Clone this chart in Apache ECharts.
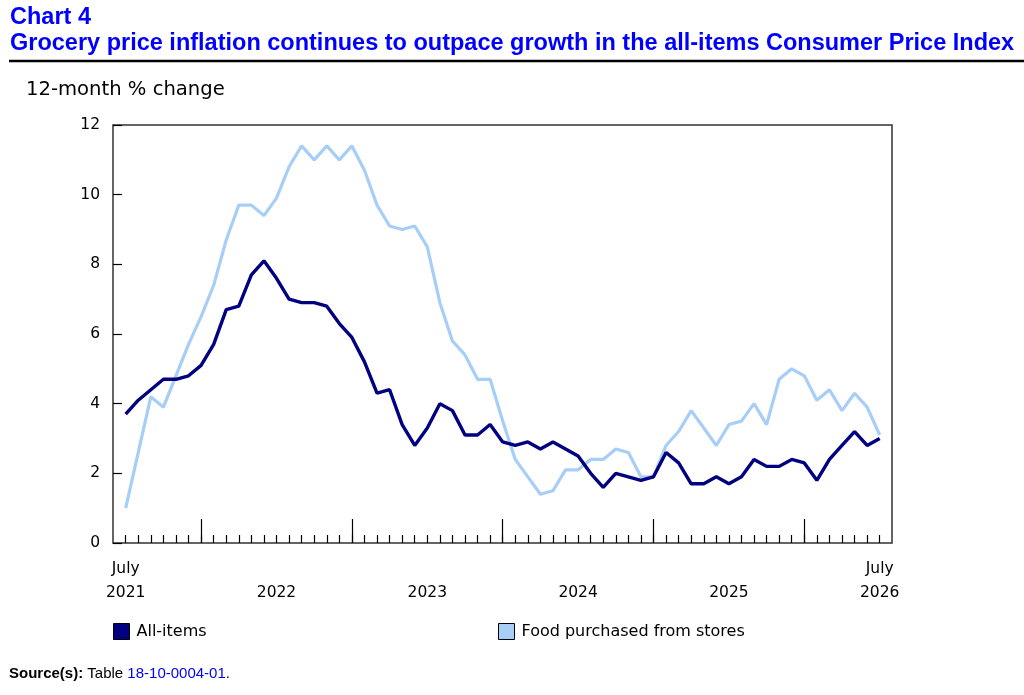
<!DOCTYPE html>
<html>
<head>
<meta charset="utf-8">
<script src="https://cdn.jsdelivr.net/npm/echarts@6/dist/echarts.min.js"></script>
<style>
  html, body { margin: 0; padding: 0; background: #fff; }
  #main { width: 1024px; height: 695px; }
</style>
</head>
<body>
<div id="main"></div>
<script>
// 数据 (July 2021 - July 2026, monthly)
var startYear = 2021;
var startMonth = 7;
var yearLabels = ['2021', '2022', '2023', '2024', '2025', '2026'];
var yTicks = [0, 2, 4, 6, 8, 10, 12];

var allItems = [
    3.7, 4.1, 4.4, 4.7, 4.7, 4.8, 5.1, 5.7, 6.7, 6.8, 7.7, 8.1,
    7.6, 7.0, 6.9, 6.9, 6.8, 6.3, 5.9, 5.2, 4.3, 4.4, 3.4, 2.8,
    3.3, 4.0, 3.8, 3.1, 3.1, 3.4, 2.9, 2.8, 2.9, 2.7, 2.9, 2.7,
    2.5, 2.0, 1.6, 2.0, 1.9, 1.8, 1.9, 2.6, 2.3, 1.7, 1.7, 1.9,
    1.7, 1.9, 2.4, 2.2, 2.2, 2.4, 2.3, 1.8, 2.4, 2.8, 3.2, 2.8,
    3.0
];

var foodStores = [
    1.0, 2.6, 4.2, 3.9, 4.8, 5.7, 6.5, 7.4, 8.7, 9.7, 9.7, 9.4,
    9.9, 10.8, 11.4, 11.0, 11.4, 11.0, 11.4, 10.7, 9.7, 9.1, 9.0, 9.1,
    8.5, 6.9, 5.8, 5.4, 4.7, 4.7, 3.5, 2.4, 1.9, 1.4, 1.5, 2.1,
    2.1, 2.4, 2.4, 2.7, 2.6, 1.9, 1.9, 2.8, 3.2, 3.8, 3.3, 2.8,
    3.4, 3.5, 4.0, 3.4, 4.7, 5.0, 4.8, 4.1, 4.4, 3.8, 4.3, 3.9,
    3.1
];

var seriesNames = ['All-items', 'Food purchased from stores'];
var colors = ['#000080', '#a7cef7'];

var months = [];
for (var i = 0; i < allItems.length; i++) {
    var m = startMonth - 1 + i;
    months.push((startYear + Math.floor(m / 12)) + '-' + ((m % 12) + 1));
}

var chartFont = 'DejaVu Sans';
var titleFont = 'Liberation Sans';

function lineChart(divId) {
    var dom = document.getElementById(divId);
    var myChart = echarts.init(dom, null, { renderer: 'canvas' });

    var last = months.length - 1;
    var option = {
        animation: false,
        backgroundColor: '#fff',
        title: [
            {
                text: 'Chart 4\nGrocery price inflation continues to outpace growth in the all-items Consumer Price Index',
                left: 5,
                top: 0,
                textStyle: {
                    fontFamily: titleFont,
                    fontSize: 23.5,
                    fontWeight: 'bold',
                    color: '#0000ff',
                    lineHeight: 26
                }
            },
            {
                text: '12-month % change',
                left: 21,
                top: 75,
                textStyle: { fontFamily: chartFont, fontSize: 19.6, fontWeight: 'normal', color: '#000' }
            },
            {
                text: '{b|Source(s):} Table {l|18-10-0004-01}.',
                left: 4,
                top: 661,
                textStyle: {
                    fontFamily: titleFont,
                    fontSize: 15,
                    fontWeight: 'normal',
                    color: '#000',
                    rich: {
                        b: { fontFamily: titleFont, fontSize: 15, fontWeight: 'bold', color: '#000' },
                        l: { fontFamily: titleFont, fontSize: 15, fontWeight: 'normal', color: '#0000ff' }
                    }
                }
            }
        ],
        graphic: [
            {
                type: 'line',
                shape: { x1: 9, y1: 61, x2: 1024, y2: 61 },
                style: { stroke: '#000', lineWidth: 2.5 }
            }
        ],
        legend: [
            {
                data: [seriesNames[0]],
                left: 108,
                top: 618,
                icon: 'rect',
                itemWidth: 16,
                itemHeight: 16,
                itemStyle: { borderColor: '#000', borderWidth: 1 },
                textStyle: { fontFamily: chartFont, fontSize: 16, color: '#000', padding: [0, 0, 0, 2] }
            },
            {
                data: [seriesNames[1]],
                left: 493,
                top: 618,
                icon: 'rect',
                itemWidth: 16,
                itemHeight: 16,
                itemStyle: { borderColor: '#000', borderWidth: 1 },
                textStyle: { fontFamily: chartFont, fontSize: 16, color: '#000', padding: [0, 0, 0, 2] }
            }
        ],
        grid: [
            // 外框
            {
                left: 113, top: 125, width: 779, height: 418,
                show: true, borderColor: '#333', borderWidth: 1.5, backgroundColor: 'transparent'
            },
            // 数据区
            { left: 125.7, top: 125, width: 754, height: 418 }
        ],
        xAxis: [
            { gridIndex: 0, type: 'value', show: false, min: 0, max: 1 },
            {
                gridIndex: 1,
                type: 'category',
                position: 'bottom',
                boundaryGap: false,
                data: months,
                axisLine: { show: false },
                axisTick: {
                    show: true,
                    inside: true,
                    length: 8,
                    interval: 0,
                    lineStyle: { color: '#000', width: 1.2 }
                },
                axisLabel: {
                    interval: function (idx) { return idx === 0 || idx === last; },
                    formatter: function () { return 'July'; },
                    margin: 18,
                    fontFamily: chartFont,
                    fontSize: 15.5,
                    color: '#000'
                },
                splitLine: { show: false }
            },
            {
                gridIndex: 1,
                type: 'category',
                position: 'bottom',
                boundaryGap: false,
                data: months,
                axisLine: { show: false },
                axisTick: {
                    show: true,
                    inside: true,
                    length: 24,
                    interval: function (idx) { return idx % 12 === 6; },
                    lineStyle: { color: '#000', width: 1.2 }
                },
                axisLabel: {
                    interval: function (idx) { return idx % 12 === 0; },
                    formatter: function (value, idx) { return yearLabels[Math.floor(idx / 12)]; },
                    margin: 42,
                    fontFamily: chartFont,
                    fontSize: 15.5,
                    color: '#000'
                },
                splitLine: { show: false }
            }
        ],
        yAxis: [
            {
                gridIndex: 0,
                type: 'value',
                min: yTicks[0],
                max: yTicks[yTicks.length - 1],
                interval: 2,
                axisLine: { show: false },
                axisTick: { show: true, inside: true, length: 9, lineStyle: { color: '#000', width: 1.2 } },
                axisLabel: { margin: 13, fontFamily: chartFont, fontSize: 15.5, color: '#000' },
                splitLine: { show: false }
            },
            {
                gridIndex: 1,
                type: 'value',
                min: yTicks[0],
                max: yTicks[yTicks.length - 1],
                show: false
            }
        ],
        series: [
            {
                name: seriesNames[1],
                type: 'line',
                xAxisIndex: 1,
                yAxisIndex: 1,
                data: foodStores,
                symbol: 'none',
                color: colors[1],
                lineStyle: { width: 3.2, color: colors[1] }
            },
            {
                name: seriesNames[0],
                type: 'line',
                xAxisIndex: 1,
                yAxisIndex: 1,
                data: allItems,
                symbol: 'none',
                color: colors[0],
                lineStyle: { width: 3.4, color: colors[0] }
            }
        ]
    };

    myChart.setOption(option);
    window.addEventListener('resize', myChart.resize);
}

lineChart('main');
</script>
</body>
</html>
